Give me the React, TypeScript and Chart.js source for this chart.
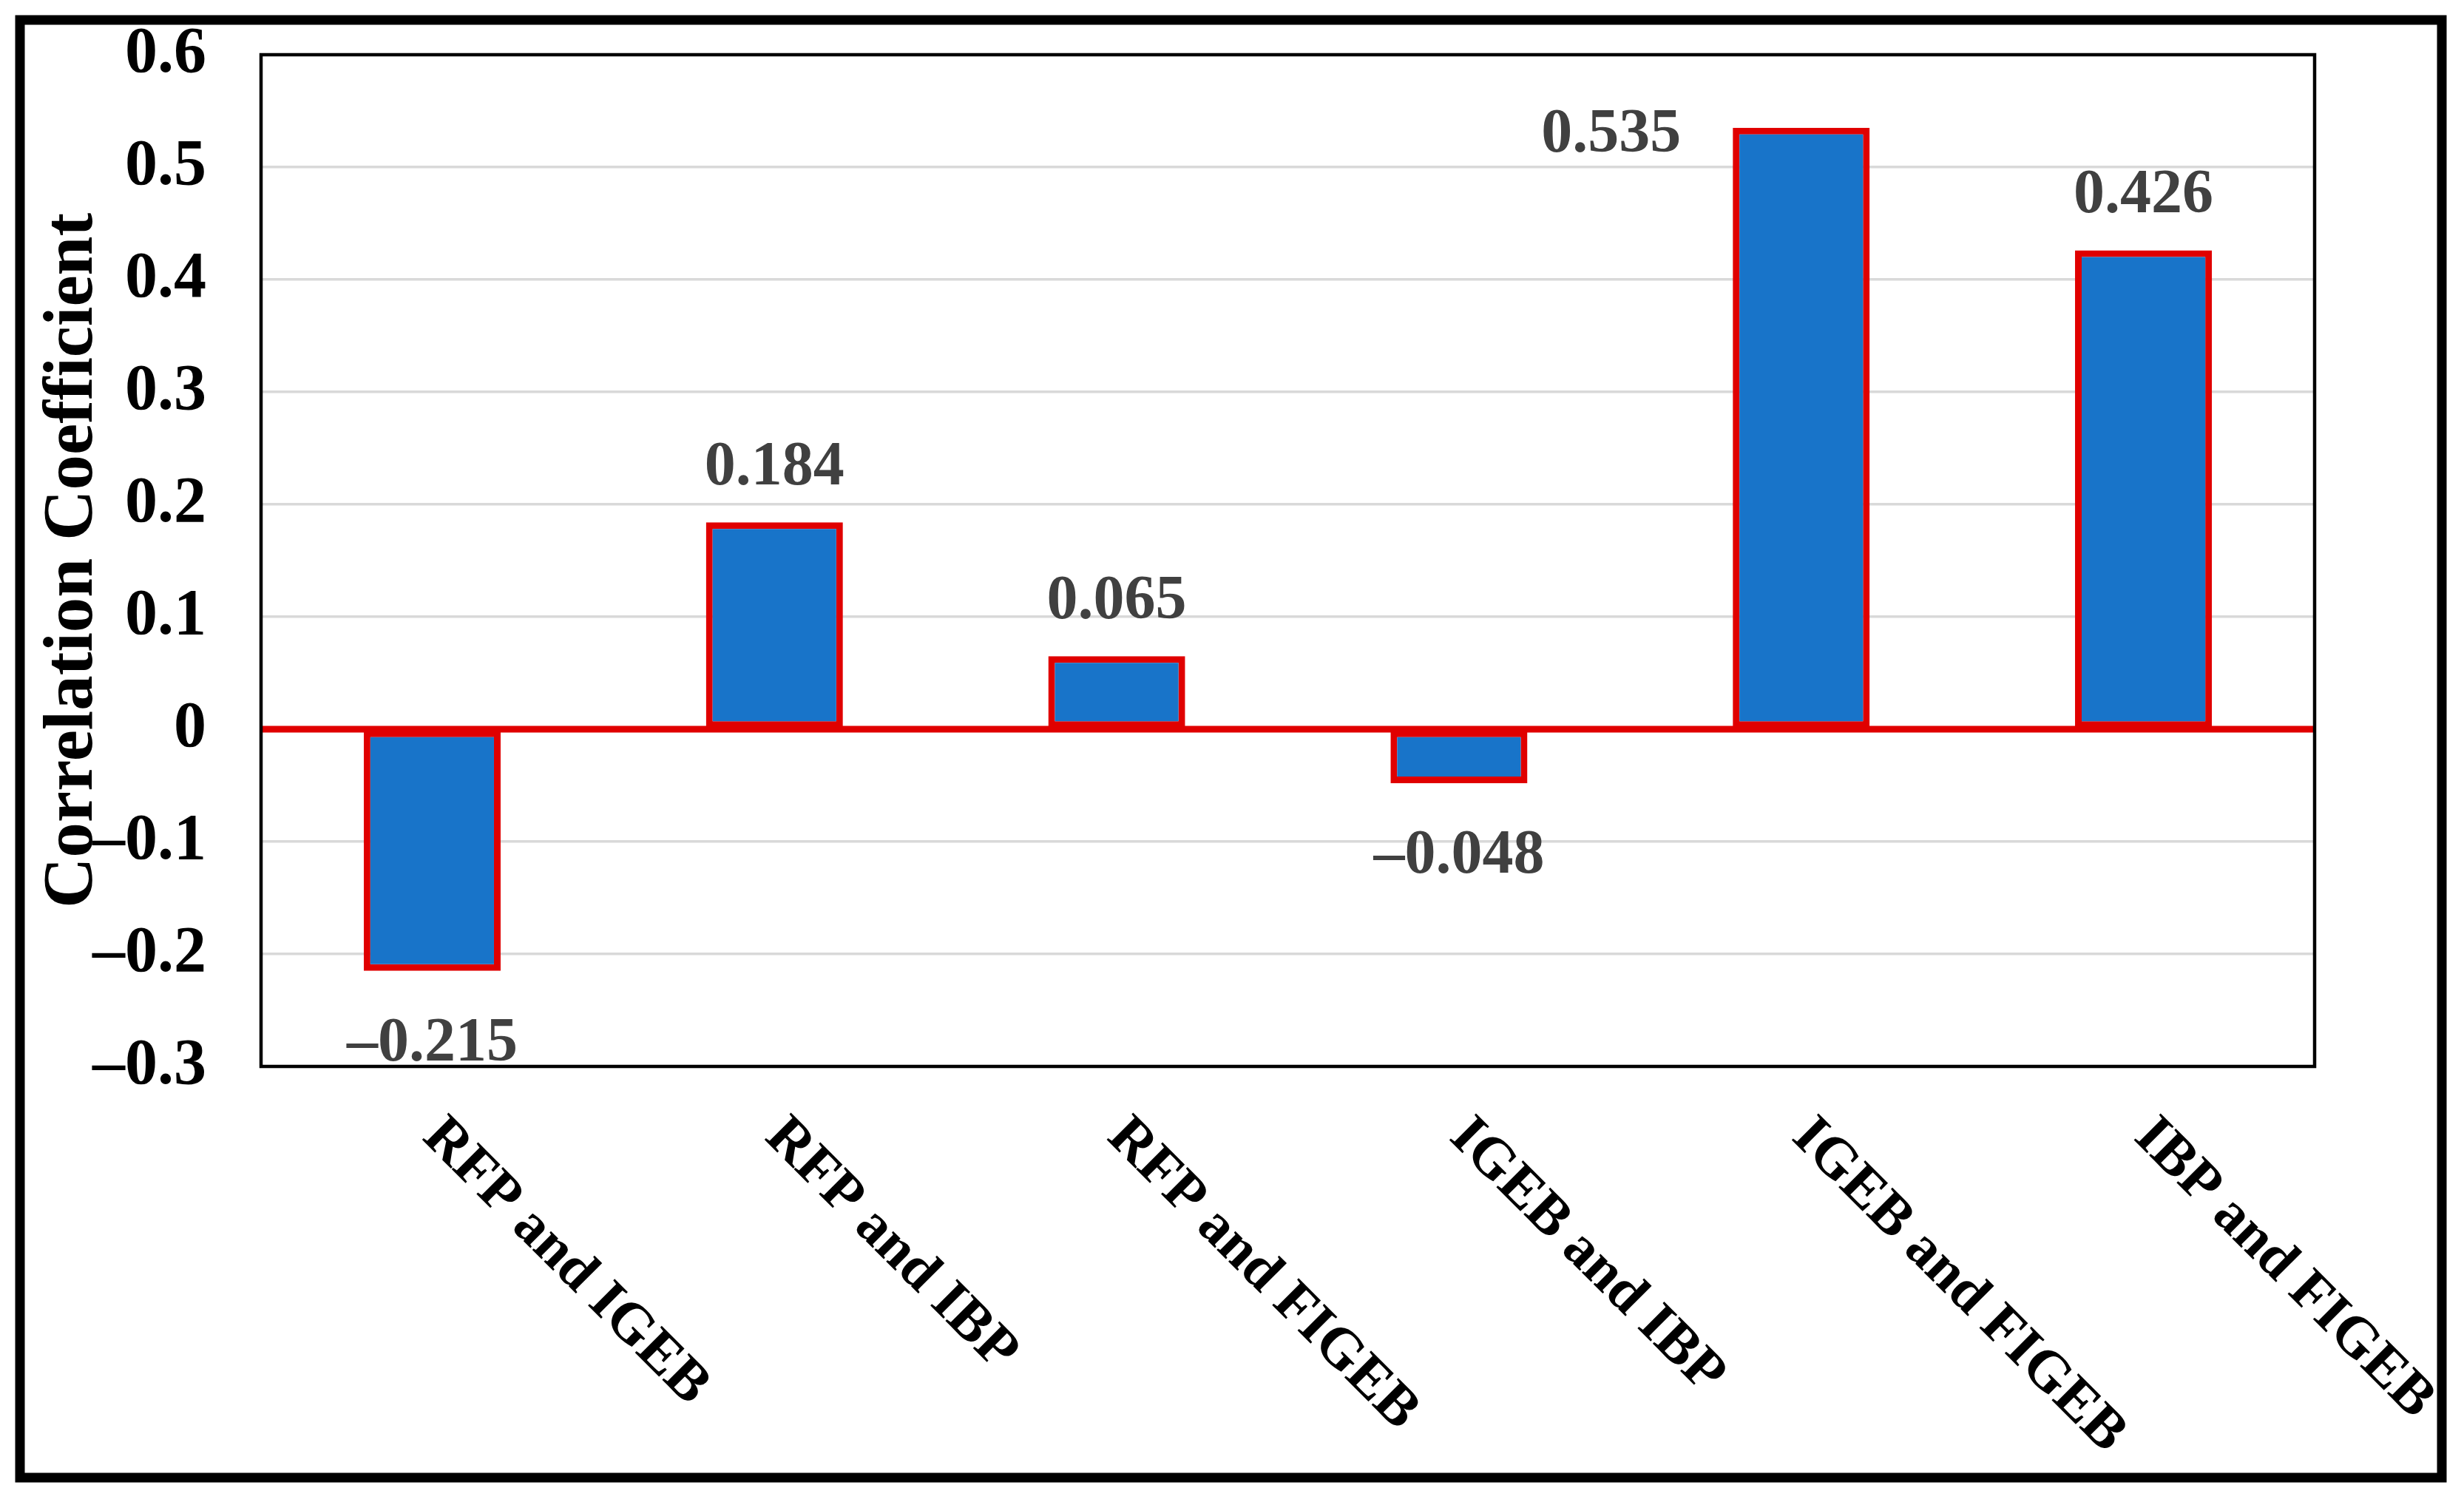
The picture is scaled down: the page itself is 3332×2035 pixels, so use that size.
import React, { useEffect, useRef } from "react";
import { Chart, registerables } from "chart.js";

Chart.register(...registerables);

const categories = [
  "RFP and IGEB",
  "RFP and IBP",
  "RFP and FIGEB",
  "IGEB and IBP",
  "IGEB and FIGEB",
  "IBP and FIGEB",
];
const coefficients = [-0.215, 0.184, 0.065, -0.048, 0.535, 0.426];
const yTickValues = [-0.3, -0.2, -0.1, 0, 0.1, 0.2, 0.3, 0.4, 0.5, 0.6];
const yTitle = "Correlation Coefficient";

const SERIF = '"Liberation Serif", "Times New Roman", "DejaVu Serif", serif';
const BLUE = "#1874C9";
const RED = "#E00000";

function fmt(v: number, digits: number): string {
  if (Math.abs(v) < 1e-9) return "0";
  const s = Math.abs(v).toFixed(digits);
  return v < 0 ? "\u2013" + s : s;
}

const decorPlugin = {
  id: "decor",
  beforeDraw(chart: any) {
    const { ctx, width, height } = chart;
    ctx.save();
    ctx.fillStyle = "#ffffff";
    ctx.fillRect(0, 0, width, height);
    ctx.restore();
  },
  afterDatasetsDraw(chart: any) {
    const { ctx, chartArea } = chart;
    const yScale = chart.scales.y;
    const xScale = chart.scales.x;
    const y0 = yScale.getPixelForValue(0);

    // zero line
    ctx.save();
    ctx.strokeStyle = RED;
    ctx.lineWidth = 9;
    ctx.beginPath();
    ctx.moveTo(chartArea.left, y0);
    ctx.lineTo(chartArea.right, y0);
    ctx.stroke();

    // plot border
    ctx.strokeStyle = "#000000";
    ctx.lineWidth = 4.5;
    ctx.strokeRect(chartArea.left, chartArea.top, chartArea.right - chartArea.left, chartArea.bottom - chartArea.top);

    // outer frame
    ctx.lineWidth = 13;
    ctx.strokeRect(27, 27, 3302 - 27, 1998 - 27);

    // data labels
    const meta = chart.getDatasetMeta(0);
    const F = 84;
    ctx.font = `bold ${F}px ${SERIF}`;
    ctx.fillStyle = "#404040";
    ctx.textBaseline = "alphabetic";
    meta.data.forEach((bar: any, i: number) => {
      const v = coefficients[i];
      const label = fmt(v, 3);
      const { x, y, width } = bar.getProps(["x", "y", "width"], true);
      if (v >= 0) {
        const baseline = y - 51;
        if (baseline - 0.68 * F < chartArea.top) {
          ctx.textAlign = "right";
          ctx.fillText(label, x - width / 2 - 70, y + 32);
        } else {
          ctx.textAlign = "center";
          ctx.fillText(label, x, baseline);
        }
      } else {
        ctx.textAlign = "center";
        ctx.fillText(label, x, y + 121);
      }
    });

    // rotated category labels
    ctx.fillStyle = "#000000";
    ctx.font = `bold 78px ${SERIF}`;
    ctx.textAlign = "left";
    ctx.textBaseline = "top";
    categories.forEach((c, i) => {
      const px = xScale.getPixelForValue(i);
      ctx.save();
      ctx.translate(px + 27, chartArea.bottom + 56);
      ctx.rotate(Math.PI / 4);
      ctx.fillText(c, 0, 0);
      ctx.restore();
    });
    ctx.restore();
  },
};

export default function App() {
  const ref = useRef<HTMLCanvasElement | null>(null);
  useEffect(() => {
    document.body.style.margin = "0";
    const canvas = ref.current!;
    const chart = new Chart(canvas, {
      type: "bar",
      data: {
        labels: categories,
        datasets: [
          {
            data: coefficients,
            backgroundColor: BLUE,
            borderColor: RED,
            borderWidth: 9,
            borderSkipped: false,
            barPercentage: 0.4,
            categoryPercentage: 1.0,
          },
        ],
      },
      options: {
        animation: false,
        responsive: false,
        devicePixelRatio: 1,
        layout: { padding: { left: 0, top: 74, right: 202, bottom: 593 } },
        plugins: {
          legend: { display: false },
          tooltip: { enabled: false },
        },
        scales: {
          x: {
            display: false,
          },
          y: {
            min: -0.3,
            max: 0.6,
            afterBuildTicks: (scale: any) => {
              scale.ticks = yTickValues.map((v) => ({ value: v }));
            },
            afterFit: (scale: any) => {
              scale.width = 353;
              scale.paddingTop = 0;
              scale.paddingBottom = 0;
            },
            border: { display: false },
            grid: {
              drawTicks: false,
              lineWidth: 3.5,
              color: (ctx: any) =>
                ctx.tick && Math.abs(ctx.tick.value) < 1e-9 ? "rgba(0,0,0,0)" : "#D9D9D9",
            },
            ticks: {
              padding: 74,
              color: "#000000",
              font: { family: SERIF, size: 88, weight: "bold" },
              callback: (v: any) => fmt(Number(v), 1),
            },
            title: {
              display: true,
              text: yTitle,
              color: "#000000",
              font: { family: SERIF, size: 95, weight: "bold" },
              padding: { top: 42, bottom: 0 },
            },
          },
        },
      },
      plugins: [decorPlugin],
    });
    return () => chart.destroy();
  }, []);
  return (
    <canvas
      ref={ref}
      width={3332}
      height={2035}
      style={{ display: "block", width: "3332px", height: "2035px" }}
    />
  );
}
